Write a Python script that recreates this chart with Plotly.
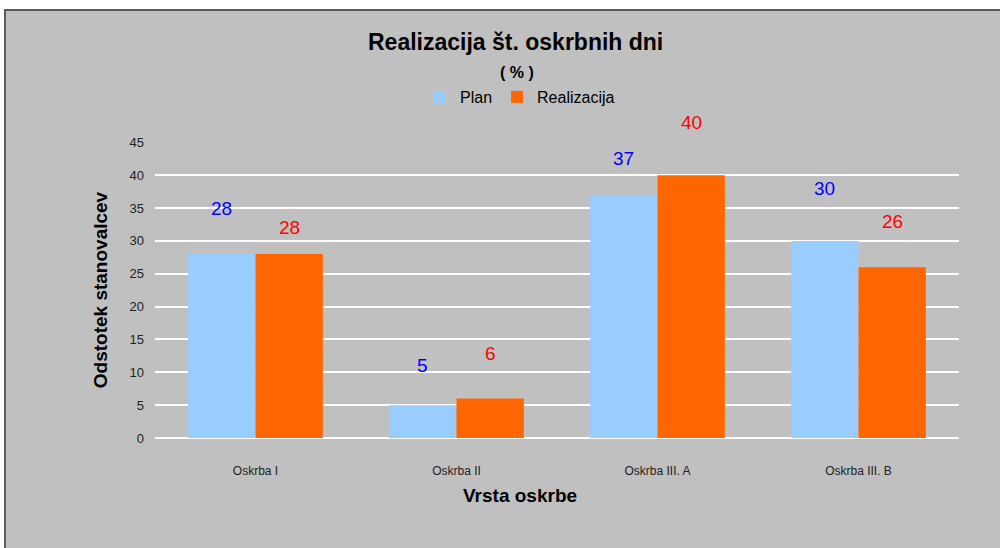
import plotly.graph_objects as go

# Podatki
kategorije = ["Oskrba I", "Oskrba II", "Oskrba III. A", "Oskrba III. B"]
plan = [28, 5, 37, 30]
realizacija = [28, 6, 40, 26]

# odmiki oznak (v pikslih) nad stolpci, kot v izvirniku
odmik_plan = [46, 40, 36, 52]
odmik_real = [27, 45, 53, 46]

FONT = "Liberation Sans, Arial, sans-serif"
barva_plan = "#99CCFF"
barva_real = "#FF6600"

# mere risalne površine v pikslih
L, R, T, B = 155, 959, 142, 438
PW, PH = R - L, B - T


def px(x):
    return (x - L) / PW


def py(y):
    return (B - y) / PH


fig = go.Figure()
fig.add_trace(go.Bar(name="Plan", x=kategorije, y=plan,
                     marker=dict(color=barva_plan, line=dict(width=0)), offsetgroup=0))
fig.add_trace(go.Bar(name="Realizacija", x=kategorije, y=realizacija,
                     marker=dict(color=barva_real, line=dict(width=0)), offsetgroup=1))

# oznake vrednosti
for i, k in enumerate(kategorije):
    fig.add_annotation(x=k, y=plan[i], text=str(plan[i]), showarrow=False,
                       xshift=-34, yshift=odmik_plan[i],
                       font=dict(family=FONT, size=19, color="#0000FF"))
    fig.add_annotation(x=k, y=realizacija[i], text=str(realizacija[i]), showarrow=False,
                       xshift=34, yshift=odmik_real[i],
                       font=dict(family=FONT, size=19, color="#FF0000"))

# naslovi
naslovi = [
    ("<b>Realizacija št. oskrbnih dni</b>", 515, 42, 23),
    ("<b>( % )</b>", 517, 72, 16),
    ("<b>Vrsta oskrbe</b>", 520, 495, 19),
]
for txt, x, y, s in naslovi:
    fig.add_annotation(x=px(x), y=py(y), xref="paper", yref="paper",
                       xanchor="center", yanchor="middle",
                       text=txt, showarrow=False,
                       font=dict(family=FONT, size=s, color="black"))

fig.update_layout(
    width=1000, height=548,
    margin=dict(l=L, r=1000 - R, t=T, b=548 - B),
    paper_bgcolor="white",
    plot_bgcolor="#CCFFFF",
    barmode="group",
    bargap=0.33,
    bargroupgap=0,
    font=dict(family=FONT, color="black"),
    legend=dict(orientation="h", x=px(520), xanchor="center",
                y=py(97), yanchor="middle",
                bgcolor="rgba(0,0,0,0)", font=dict(size=16),
                itemwidth=30, traceorder="normal"),
    shapes=[dict(type="rect", xref="paper", yref="paper", layer="below",
                 x0=px(5), x1=px(1001), y0=py(549), y1=py(10),
                 fillcolor="#C0C0C0", line=dict(color="#5a5a5a", width=2))],
)

fig.update_xaxes(showgrid=False, ticks="", tickfont=dict(size=12, color="#222"),
                 ticklabelstandoff=24, showline=False)
fig.update_yaxes(range=[0, 45.05], tickvals=list(range(0, 50, 5)), showgrid=True,
                 gridcolor="white", gridwidth=2, zeroline=True, zerolinecolor="white",
                 zerolinewidth=2, tickfont=dict(size=13, color="#222"), ticks="",
                 ticklabelstandoff=10,
                 title=dict(text="<b>Odstotek stanovalcev</b>",
                            font=dict(size=19, color="black"), standoff=16))

fig.write_html("out.html", config={"displayModeBar": False},
               post_script="document.body.style.margin='0';")
